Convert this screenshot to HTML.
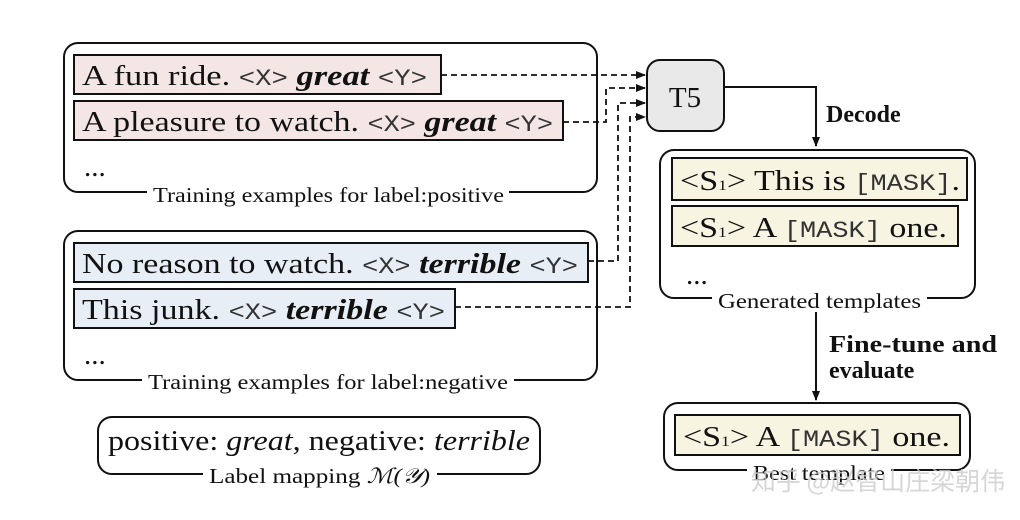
<!DOCTYPE html>
<html><head><meta charset="utf-8"><style>
body{margin:0;background:#fff;}
svg{display:block;}
.s{font-family:"Liberation Serif",serif;font-size:29px;fill:#111;}
.m{font-family:"Liberation Mono",monospace;font-size:23px;fill:#333;}
.l{font-family:"Liberation Serif",serif;font-size:21px;fill:#111;}
.b{font-family:"Liberation Serif",serif;font-size:24px;font-weight:bold;fill:#111;}
</style></head><body>
<svg width="1020" height="520" viewBox="0 0 1020 520" xmlns="http://www.w3.org/2000/svg">
<defs><marker id="a" markerWidth="10" markerHeight="8" refX="9" refY="4" orient="auto" markerUnits="userSpaceOnUse"><path d="M0,0 L10,4 L0,8z" fill="#111"/></marker></defs>
<g fill="none" stroke="#111" stroke-width="2">
<rect x="64" y="43" width="533" height="149" rx="14"/>
<rect x="64" y="231" width="533" height="149" rx="14"/>
<rect x="98" y="417" width="442" height="57" rx="14"/>
<rect x="660" y="150" width="315" height="148" rx="14"/>
<rect x="664" y="403" width="306" height="67" rx="14"/>
</g>
<rect x="647" y="60" width="77" height="71" rx="13" fill="#e9e9e9" stroke="#111" stroke-width="2"/>
<text x="685" y="107" class="s" text-anchor="middle">T5</text>
<g stroke="#111" stroke-width="2">
<rect x="74" y="55" width="367" height="39" fill="#f3e6e4"/>
<rect x="74" y="101" width="489" height="39" fill="#f3e6e4"/>
<rect x="74" y="243" width="514" height="39" fill="#e7eef6"/>
<rect x="74" y="289" width="381" height="39" fill="#e7eef6"/>
<rect x="672" y="158" width="295" height="42" fill="#f8f4e2"/>
<rect x="672" y="206" width="286" height="40" fill="#f8f4e2"/>
<rect x="675" y="415" width="285" height="40" fill="#f8f4e2"/>
</g>
<g fill="none" stroke="#111" stroke-width="1.8" stroke-dasharray="6,4">
<path d="M441 75 H645" marker-end="url(#a)"/>
<path d="M563 122 H606 V88 H645" marker-end="url(#a)"/>
<path d="M588 261 H618 V103 H645" marker-end="url(#a)"/>
<path d="M455 307 H630 V117 H645" marker-end="url(#a)"/>
</g>
<g fill="none" stroke="#111" stroke-width="2">
<path d="M724 87 H816 V146" marker-end="url(#a)"/>
<path d="M816 312 V400" marker-end="url(#a)"/>
</g>
<text x="826" y="122" class="b">Decode</text>
<text x="829" y="352" class="b" textLength="168" lengthAdjust="spacingAndGlyphs">Fine-tune and</text>
<text x="829" y="378" class="b">evaluate</text>
<text x="82" y="85" class="s" textLength="345" lengthAdjust="spacingAndGlyphs">A fun ride. <tspan class="m">&lt;X&gt;</tspan> <tspan font-weight="bold" font-style="italic">great</tspan> <tspan class="m">&lt;Y&gt;</tspan></text>
<text x="82" y="131" class="s" textLength="471" lengthAdjust="spacingAndGlyphs">A pleasure to watch. <tspan class="m">&lt;X&gt;</tspan> <tspan font-weight="bold" font-style="italic">great</tspan> <tspan class="m">&lt;Y&gt;</tspan></text>
<text x="84" y="176" class="s">...</text>
<text x="82" y="273" class="s" textLength="496" lengthAdjust="spacingAndGlyphs">No reason to watch. <tspan class="m">&lt;X&gt;</tspan> <tspan font-weight="bold" font-style="italic">terrible</tspan> <tspan class="m">&lt;Y&gt;</tspan></text>
<text x="82" y="319" class="s" textLength="363" lengthAdjust="spacingAndGlyphs">This junk. <tspan class="m">&lt;X&gt;</tspan> <tspan font-weight="bold" font-style="italic">terrible</tspan> <tspan class="m">&lt;Y&gt;</tspan></text>
<text x="84" y="364" class="s">...</text>
<text x="108" y="450" class="s" textLength="422" lengthAdjust="spacingAndGlyphs">positive: <tspan font-style="italic">great</tspan>, negative: <tspan font-style="italic">terrible</tspan></text>
<text x="680" y="190" class="s" textLength="280" lengthAdjust="spacingAndGlyphs">&lt;S<tspan font-size="15">1</tspan>&gt; This is <tspan class="m">[MASK]</tspan>.</text>
<text x="680" y="237" class="s" textLength="267" lengthAdjust="spacingAndGlyphs">&lt;S<tspan font-size="15">1</tspan>&gt; A <tspan class="m">[MASK]</tspan> one.</text>
<text x="686" y="284" class="s">...</text>
<text x="683" y="446" class="s" textLength="267" lengthAdjust="spacingAndGlyphs">&lt;S<tspan font-size="15">1</tspan>&gt; A <tspan class="m">[MASK]</tspan> one.</text>
<rect x="147" y="184" width="362" height="20" fill="#fff"/>
<text x="153" y="202" class="l" textLength="351" lengthAdjust="spacingAndGlyphs">Training examples for label:positive</text>
<rect x="142" y="372" width="372" height="20" fill="#fff"/>
<text x="148" y="389" class="l" textLength="360" lengthAdjust="spacingAndGlyphs">Training examples for label:negative</text>
<rect x="203" y="466" width="234" height="22" fill="#fff"/>
<text x="209" y="483" class="l" textLength="221" lengthAdjust="spacingAndGlyphs">Label mapping <tspan font-style="italic">ℳ(𝒴)</tspan></text>
<rect x="712" y="290" width="215" height="20" fill="#fff"/>
<text x="718" y="308" class="l" textLength="203" lengthAdjust="spacingAndGlyphs">Generated templates</text>
<rect x="747" y="462" width="144" height="20" fill="#fff"/>
<text x="753" y="480" class="l" textLength="132" lengthAdjust="spacingAndGlyphs">Best template</text>
<text x="878" y="490" font-family="'Noto Sans CJK SC',sans-serif" font-size="25" fill="#ccc" fill-opacity="0.8" text-anchor="middle">知乎 @赵智山庄梁朝伟</text>
</svg>
</body></html>
